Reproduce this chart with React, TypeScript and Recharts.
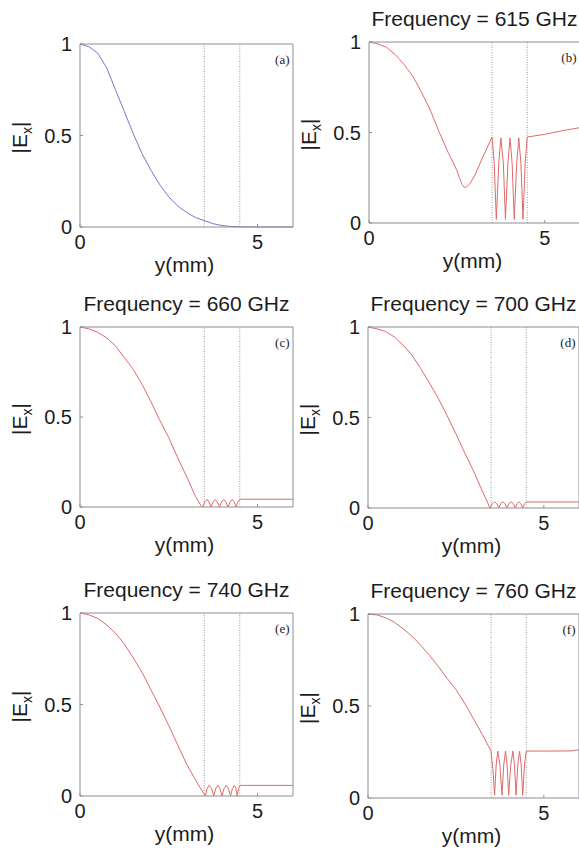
import { LineChart, Line, XAxis, YAxis, ReferenceLine } from "recharts";

// (a) reference field, y in mm
const posA = [0, 0.25, 0.5, 0.75, 1.0, 1.25, 1.5, 1.75, 2.0, 2.25, 2.5, 2.75, 3.0, 3.25, 3.5, 3.75, 4.0, 4.25, 4.5, 5.0, 6.0];
const exA = [1.0, 0.985, 0.95, 0.87, 0.75, 0.63, 0.51, 0.4, 0.31, 0.23, 0.165, 0.115, 0.08, 0.052, 0.035, 0.018, 0.008, 0.003, 0.001, 0, 0];

// (b) 615 GHz
const posB = [0, 0.25, 0.5, 0.75, 1.0, 1.25, 1.5, 1.75, 2.0, 2.25, 2.5, 2.58, 2.65, 2.71, 2.78, 2.87, 3.0, 3.25, 3.5,
  3.56, 3.62, 3.69, 3.75, 3.82, 3.88, 3.95, 4.01, 4.07, 4.13, 4.2, 4.26, 4.32, 4.38, 4.44, 4.5, 5.0, 5.5, 6.0];
const exB = [1.0, 0.99, 0.97, 0.93, 0.875, 0.81, 0.72, 0.62, 0.5, 0.39, 0.29, 0.245, 0.212, 0.197, 0.2, 0.218, 0.26, 0.37, 0.475,
  0.33, 0.02, 0.33, 0.47, 0.33, 0.02, 0.33, 0.47, 0.33, 0.02, 0.33, 0.47, 0.33, 0.02, 0.33, 0.475, 0.49, 0.51, 0.527];

// (c) 660 GHz
const posC = [0, 0.25, 0.5, 0.75, 1.0, 1.25, 1.5, 1.75, 2.0, 2.25, 2.5, 2.75, 3.0, 3.25, 3.4, 3.45,
  3.515, 3.58, 3.635, 3.69, 3.75, 3.81, 3.87, 3.93, 3.99, 4.05, 4.11, 4.17, 4.23, 4.29, 4.345, 4.4, 4.45, 4.5, 6.0];
const exC = [1.0, 0.99, 0.97, 0.94, 0.895, 0.83, 0.765, 0.68, 0.585, 0.48, 0.385, 0.275, 0.17, 0.06, 0.01, 0,
  0.028, 0.042, 0.028, 0, 0.028, 0.042, 0.028, 0, 0.028, 0.042, 0.028, 0, 0.028, 0.042, 0.028, 0, 0.03, 0.043, 0.043];

// (d) 700 GHz
const posD = [0, 0.25, 0.5, 0.75, 1.0, 1.25, 1.5, 1.75, 2.0, 2.25, 2.5, 2.75, 3.0, 3.25, 3.47,
  3.54, 3.6, 3.66, 3.72, 3.775, 3.83, 3.89, 3.95, 4.01, 4.07, 4.13, 4.19, 4.24, 4.29, 4.345, 4.4, 4.45, 4.5, 6.0];
const exD = [1.0, 0.99, 0.975, 0.945, 0.9, 0.845, 0.77, 0.69, 0.605, 0.51, 0.41, 0.305, 0.205, 0.095, 0,
  0.025, 0.034, 0.025, 0, 0.025, 0.034, 0.025, 0, 0.025, 0.034, 0.025, 0, 0.025, 0.034, 0.025, 0, 0.024, 0.033, 0.033];

// (e) 740 GHz
const posE = [0, 0.25, 0.5, 0.75, 1.0, 1.25, 1.5, 1.75, 2.0, 2.25, 2.5, 2.75, 3.0, 3.25, 3.4, 3.53,
  3.585, 3.64, 3.705, 3.77, 3.825, 3.88, 3.94, 4.0, 4.06, 4.12, 4.18, 4.24, 4.295, 4.35, 4.39, 4.43, 4.465, 4.5, 6.0];
const exE = [1.0, 0.99, 0.97, 0.935, 0.89, 0.83, 0.755, 0.675, 0.58, 0.485, 0.385, 0.28, 0.175, 0.09, 0.04, 0,
  0.042, 0.058, 0.042, 0, 0.042, 0.058, 0.042, 0, 0.042, 0.058, 0.042, 0, 0.042, 0.058, 0.042, 0, 0.042, 0.058, 0.058];

// (f) 760 GHz
const posF = [0, 0.25, 0.5, 0.75, 1.0, 1.25, 1.5, 1.75, 2.0, 2.25, 2.5, 2.75, 3.0, 3.25, 3.5, 3.55,
  3.6, 3.645, 3.69, 3.75, 3.81, 3.86, 3.91, 3.955, 4.0, 4.06, 4.12, 4.165, 4.21, 4.26, 4.31, 4.355, 4.4, 4.45, 4.5, 5.0, 5.8, 6.0];
const exF = [1.0, 0.995, 0.98, 0.955, 0.92, 0.88, 0.83, 0.775, 0.715, 0.65, 0.59, 0.515, 0.43, 0.345, 0.255, 0.16,
  0.015, 0.18, 0.255, 0.18, 0.015, 0.18, 0.255, 0.18, 0.015, 0.18, 0.255, 0.18, 0.015, 0.18, 0.255, 0.18, 0.015, 0.18, 0.255, 0.255, 0.256, 0.262];

const titles = ["", "Frequency = 615 GHz", "Frequency = 660 GHz", "Frequency = 700 GHz", "Frequency = 740 GHz", "Frequency = 760 GHz"];
const tags = ["(a)", "(b)", "(c)", "(d)", "(e)", "(f)"];
const xTicks = [0, 5];
const yTicks = [0, 0.5, 1];
const slabEdges = [3.5, 4.5];

const BOX = "#8e8e96";
const DOT = "#9a9a9a";
const TXT = "#1c1c1c";
const BLUE = "#7878c8";
const RED = "#e06a6a";
const SANS = '"Liberation Sans", Arial, sans-serif';

const toRows = (ys: number[], ex: number[]) => ys.map((y, i) => ({ y, ex: ex[i] }));

const panels = [
  { left: 80, top: 44, w: 213, h: 183, rows: toRows(posA, exA), color: BLUE },
  { left: 369, top: 42, w: 211, h: 181, rows: toRows(posB, exB), color: RED },
  { left: 80, top: 327, w: 213, h: 180, rows: toRows(posC, exC), color: RED },
  { left: 368, top: 327, w: 211, h: 181, rows: toRows(posD, exD), color: RED },
  { left: 80, top: 613, w: 213, h: 183, rows: toRows(posE, exE), color: RED },
  { left: 368, top: 614, w: 211, h: 184, rows: toRows(posF, exF), color: RED },
];

function Panel({ p }: { p: (typeof panels)[number] }) {
  const tickStyle = { fontSize: 20, fill: TXT };
  return (
    <div style={{ position: "absolute", left: p.left - 80, top: p.top - 45 }}>
      <LineChart
        width={p.w + 90}
        height={p.h + 105}
        data={p.rows}
        margin={{ top: 44, right: 9, bottom: 30, left: 20 }}
      >
        <XAxis
          type="number"
          dataKey="y"
          domain={[0, 6]}
          ticks={xTicks}
          height={30}
          interval={0}
          tickSize={-3}
          tickMargin={11}
          tick={tickStyle}
          axisLine={{ stroke: BOX }}
          tickLine={{ stroke: BOX }}
        />
        <XAxis
          xAxisId="top"
          orientation="top"
          type="number"
          domain={[0, 6]}
          ticks={xTicks}
          height={1}
          tickSize={-3}
          tick={false}
          axisLine={{ stroke: BOX }}
          tickLine={{ stroke: BOX }}
        />
        <YAxis
          type="number"
          domain={[0, 1]}
          ticks={yTicks}
          width={60}
          interval={0}
          tickSize={-3}
          tickMargin={11}
          tick={tickStyle}
          axisLine={{ stroke: BOX }}
          tickLine={{ stroke: BOX }}
        />
        <YAxis
          yAxisId="right"
          orientation="right"
          type="number"
          domain={[0, 1]}
          ticks={yTicks}
          width={1}
          tickSize={-3}
          tick={false}
          axisLine={{ stroke: BOX }}
          tickLine={{ stroke: BOX }}
        />
        {slabEdges.map((x) => (
          <ReferenceLine key={x} x={x} stroke={DOT} strokeDasharray="1 1.5" />
        ))}
        <Line
          type="linear"
          dataKey="ex"
          stroke={p.color}
          strokeWidth={1}
          dot={false}
          isAnimationActive={false}
        />
      </LineChart>
    </div>
  );
}

export default function App() {
  return (
    <div
      style={{
        position: "absolute",
        left: 0,
        top: 0,
        width: 579,
        height: 853,
        overflow: "hidden",
        background: "#fff",
        fontFamily: SANS,
      }}
    >
      {panels.map((p, i) => (
        <Panel key={i} p={p} />
      ))}
      <svg
        width={579}
        height={853}
        style={{ position: "absolute", left: 0, top: 0, pointerEvents: "none" }}
      >
        {panels.map((p, i) => {
          const cx = p.left + p.w / 2;
          const cy = p.top + p.h / 2;
          return (
            <g key={i} fill={TXT} fontFamily={SANS}>
              {titles[i] && (
                <text x={cx} y={p.top - 16} fontSize={21} textAnchor="middle">
                  {titles[i]}
                </text>
              )}
              <text x={cx - 2} y={p.top + p.h + 45} fontSize={21} textAnchor="middle">
                y(mm)
              </text>
              <text
                transform={`translate(${p.left - 53},${cy + 2}) rotate(-90)`}
                fontSize={21}
                textAnchor="middle"
              >
                |E
                <tspan fontSize={14} dy={5}>x</tspan>
                <tspan dy={-5}>|</tspan>
              </text>
              <text
                x={Math.min(p.left + p.w - 3.5, 577)}
                y={p.top + 20}
                fontSize={13}
                fontFamily='"Liberation Serif", "Times New Roman", serif'
                textAnchor="end"
              >
                {tags[i]}
              </text>
            </g>
          );
        })}
      </svg>
    </div>
  );
}
